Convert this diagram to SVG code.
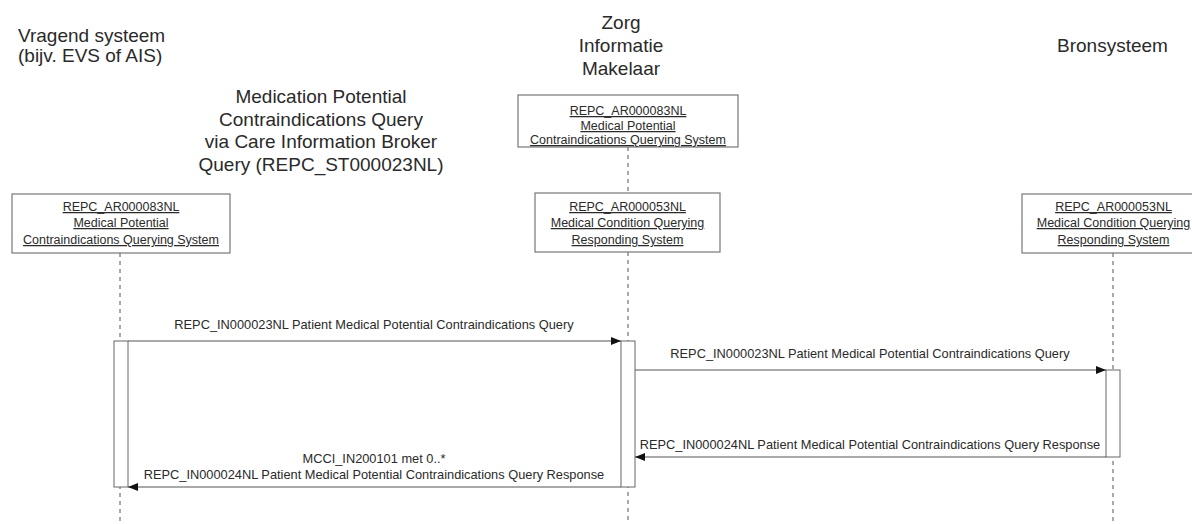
<svg xmlns="http://www.w3.org/2000/svg" width="1192" height="524" viewBox="0 0 1192 524">
<style>
text{font-family:"Liberation Sans",Arial,sans-serif;fill:#2a2a2a}
.title{font-size:19px}
.box{fill:#fff;stroke:#777;stroke-width:1.2}
.bt{font-size:12.5px;text-decoration:underline;text-anchor:middle}
.life{stroke:#555;stroke-width:1;stroke-dasharray:4,4;fill:none}
.bar{fill:#fff;stroke:#666;stroke-width:1}
.msg{stroke:#555;stroke-width:1;fill:none;marker-end:url(#ah)}
.ml{font-size:12.8px;text-anchor:middle}
</style>
<defs>
<marker id="ah" viewBox="0 0 10 10" refX="10" refY="5" markerWidth="10" markerHeight="10" markerUnits="userSpaceOnUse" orient="auto">
<path d="M0,1 L10,5 L0,9 z" fill="#111"/>
</marker>
</defs>
<rect width="1192" height="524" fill="#fff"/>
<g id="titles">
<text class="title" x="18" y="42">Vragend systeem</text>
<text class="title" x="18" y="62">(bijv. EVS of AIS)</text>
<text class="title" x="621" y="29" text-anchor="middle">Zorg</text>
<text class="title" x="621" y="52" text-anchor="middle">Informatie</text>
<text class="title" x="621" y="75" text-anchor="middle">Makelaar</text>
<text class="title" x="1057" y="52">Bronsysteem</text>
<text class="title" x="321" y="103" text-anchor="middle">Medication Potential</text>
<text class="title" x="321" y="125.5" text-anchor="middle">Contraindications Query</text>
<text class="title" x="321" y="148" text-anchor="middle">via Care Information Broker</text>
<text class="title" x="321" y="170.5" text-anchor="middle">Query (REPC_ST000023NL)</text>
</g>
<g id="connectors">
<line class="life" x1="120" y1="253" x2="120" y2="524"/>
<line class="life" x1="628" y1="147" x2="628" y2="193"/>
<line class="life" x1="628" y1="252" x2="628" y2="524"/>
<line class="life" x1="1113" y1="253" x2="1113" y2="524"/>
<rect class="bar" x="114" y="341" width="14" height="146"/>
<rect class="bar" x="621" y="341" width="14" height="146"/>
<rect class="bar" x="1106" y="370" width="14" height="87"/>
<line class="msg" x1="128" y1="341" x2="621" y2="341"/>
<line class="msg" x1="635" y1="370" x2="1106" y2="370"/>
<line class="msg" x1="1106" y1="457" x2="635" y2="457"/>
<line class="msg" x1="621" y1="487" x2="128" y2="487"/>
<text class="ml" x="374" y="329">REPC_IN000023NL Patient Medical Potential Contraindications Query</text>
<text class="ml" x="870" y="358">REPC_IN000023NL Patient Medical Potential Contraindications Query</text>
<text class="ml" x="870" y="449">REPC_IN000024NL Patient Medical Potential Contraindications Query Response</text>
<text class="ml" x="374" y="463">MCCI_IN200101 met 0..*</text>
<text class="ml" x="374" y="479">REPC_IN000024NL Patient Medical Potential Contraindications Query Response</text>
</g>
<g id="node-zim-top">
<rect class="box" x="518" y="95" width="220" height="52"/>
<text class="bt" x="628" y="115">REPC_AR000083NL</text>
<text class="bt" x="628" y="130">Medical Potential</text>
<text class="bt" x="628" y="144">Contraindications Querying System</text>
</g>
<g id="node-vragend">
<rect class="box" x="12" y="194" width="218" height="59"/>
<text class="bt" x="121" y="211">REPC_AR000083NL</text>
<text class="bt" x="121" y="227">Medical Potential</text>
<text class="bt" x="121" y="244">Contraindications Querying System</text>
</g>
<g id="node-zim">
<rect class="box" x="535" y="193" width="185" height="59"/>
<text class="bt" x="627.5" y="211">REPC_AR000053NL</text>
<text class="bt" x="627.5" y="227">Medical Condition Querying</text>
<text class="bt" x="627.5" y="244">Responding System</text>
</g>
<g id="node-bron">
<rect class="box" x="1022" y="194" width="183" height="59"/>
<text class="bt" x="1113.5" y="211">REPC_AR000053NL</text>
<text class="bt" x="1113.5" y="227">Medical Condition Querying</text>
<text class="bt" x="1113.5" y="244">Responding System</text>
</g>
</svg>
